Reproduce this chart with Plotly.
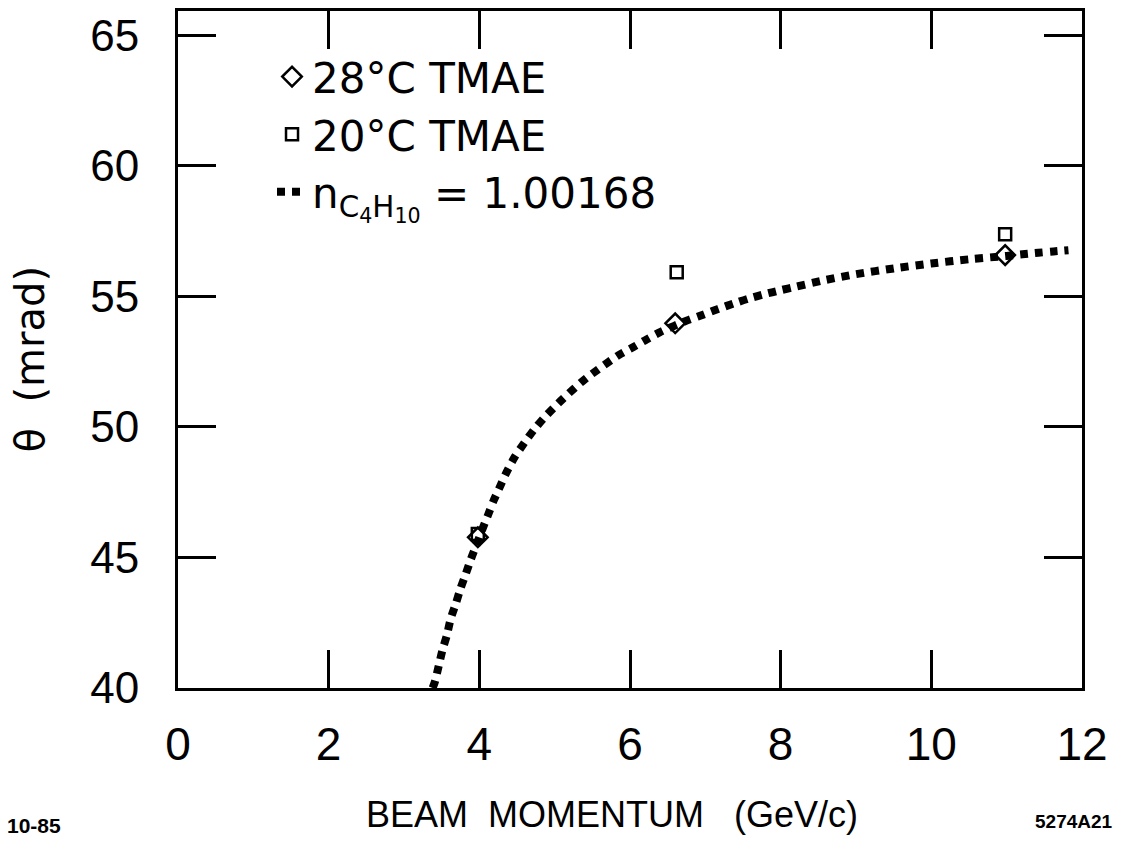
import plotly.graph_objects as go

# Data
tmae28_x = [3.98, 6.60, 10.98]
tmae28_y = [45.77, 53.97, 56.58]

tmae20_x = [3.98, 6.62, 10.98]
tmae20_y = [45.9, 55.92, 57.38]

curve_x = [3.38, 3.41, 3.46, 3.51, 3.57, 3.62, 3.69, 3.75, 3.82, 3.89, 3.98, 4.04, 4.12,
           4.19, 4.28, 4.35, 4.47, 4.60, 4.72, 4.86, 5.1, 5.4, 5.85, 6.04, 6.22, 6.40,
           6.76, 6.97, 7.17, 7.38, 7.58, 7.78, 7.99, 8.20, 8.6, 9.0, 9.5, 10.0, 10.5,
           11.0, 11.21, 11.42, 11.62, 11.82]
curve_y = [40.0, 40.24, 40.84, 41.45, 42.03, 42.65, 43.25, 43.81, 44.37, 44.95, 45.62, 46.08,
           46.66, 47.18, 47.75, 48.2, 48.85, 49.4, 49.87, 50.35, 51.05, 51.82, 52.75, 53.05,
           53.35, 53.63, 54.08, 54.3, 54.52, 54.73, 54.92, 55.08, 55.23, 55.37, 55.63, 55.85,
           56.07, 56.26, 56.42, 56.55, 56.61, 56.67, 56.72, 56.77]

x_ticks = [0, 2, 4, 6, 8, 10, 12]
x_ticklabels = ["0", "2", "4", "6", "8", "10", "12"]
y_ticks = [40, 45, 50, 55, 60, 65]
y_ticklabels = ["40", "45", "50", "55", "60", "65"]

FONT = "Liberation Sans, Arial, sans-serif"
LEGFONT = "DejaVu Sans, Liberation Sans, sans-serif"

fig = go.Figure()

fig.add_trace(go.Scatter(
    x=tmae28_x, y=tmae28_y, mode="markers", name="28°C TMAE",
    marker=dict(symbol="diamond-open", size=15, color="black", line=dict(width=2.5, color="black")),
))
fig.add_trace(go.Scatter(
    x=tmae20_x, y=tmae20_y, mode="markers", name="20°C TMAE",
    marker=dict(symbol="square-open", size=12, color="black", line=dict(width=2.5, color="black")),
))
fig.add_trace(go.Scatter(
    x=curve_x, y=curve_y, mode="lines",
    name="n<sub>C<sub>4</sub>H<sub>10</sub></sub> = 1.00168",
    line=dict(color="black", width=8, dash="8px,7px", shape="spline", smoothing=0.8),
))

axis_common = dict(
    showline=True, linewidth=3, linecolor="black", mirror="ticks",
    ticks="inside", ticklen=38, tickwidth=3, tickcolor="black",
    showgrid=False, zeroline=False,
)

fig.update_xaxes(
    range=[0, 12], tickvals=x_ticks, ticktext=x_ticklabels,
    tickfont=dict(family=FONT, size=46, color="black"),
    ticklabelstandoff=14,
    **axis_common,
)
fig.update_yaxes(
    range=[40, 65.93], tickvals=y_ticks, ticktext=y_ticklabels,
    tickfont=dict(family=FONT, size=44, color="black"),
    ticklabelstandoff=27,
    **axis_common,
)

fig.update_layout(
    width=1124, height=845,
    margin=dict(l=178, r=42, t=8, b=157),
    paper_bgcolor="white", plot_bgcolor="white",
    showlegend=True,
    legend=dict(
        x=0.104, y=0.953, xanchor="left", yanchor="top",
        font=dict(family=LEGFONT, size=42, color="black"),
        bgcolor="rgba(0,0,0,0)", borderwidth=0,
        tracegroupgap=0, itemwidth=30,
    ),
    annotations=[
        dict(text="BEAM  MOMENTUM   (GeV/c)", xref="paper", yref="paper",
             x=0.48, y=-0.187, xanchor="center", yanchor="middle", showarrow=False,
             font=dict(family="Liberation Sans Narrow, Liberation Sans, sans-serif", size=36, color="black")),
        dict(text="θ  (mrad)", xref="paper", yref="paper", textangle=-90,
             x=-0.164, y=0.485, xanchor="center", yanchor="middle", showarrow=False,
             font=dict(family=LEGFONT, size=40, color="black")),
        dict(text="<b>10-85</b>", xref="paper", yref="paper",
             x=-0.191, y=-0.203, xanchor="left", yanchor="middle", showarrow=False,
             font=dict(family=FONT, size=21, color="black")),
        dict(text="<b>5274A21</b>", xref="paper", yref="paper",
             x=1.0365, y=-0.197, xanchor="right", yanchor="middle", showarrow=False,
             font=dict(family=FONT, size=19, color="black")),
    ],
)

fig.write_html("out.html")
